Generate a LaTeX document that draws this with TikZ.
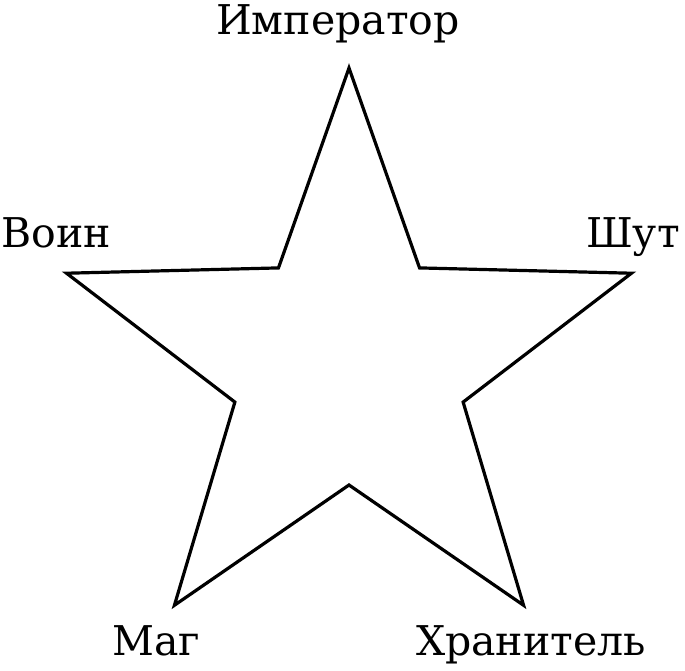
\documentclass[tikz,border=0pt]{standalone}
\usepackage{fontspec}
\setmainfont{DejaVu Serif}
\usepackage{tikz}
\usetikzlibrary{positioning,calc}
\tikzset{
Etoile/.style={
 draw=black,
 line width=3.2pt,
 line join=miter
 },
Nom/.style={
 font=\fontsize{41}{46}\selectfont,
 inner sep=0pt,
 anchor=base
 }
}
\begin{document}
\begin{tikzpicture}[x=1pt,y=1pt]
\useasboundingbox (0,0) rectangle (685,670);
\coordinate (c) at (349,305);
\coordinate (s1) at ($(c)+(90:297)$);
\coordinate (s2) at ($(c)+(18:297)$);
\coordinate (s3) at ($(c)+(-54:297)$);
\coordinate (s4) at ($(c)+(-126:297)$);
\coordinate (s5) at ($(c)+(162:297)$);
\coordinate (i1) at ($(c)+(54:120)$);
\coordinate (i2) at ($(c)+(-18:120)$);
\coordinate (i3) at ($(c)+(-90:120)$);
\coordinate (i4) at ($(c)+(-162:120)$);
\coordinate (i5) at ($(c)+(126:120)$);
\draw[Etoile] (s1) -- (i1) -- (s2) -- (i2) -- (s3) -- (i3) -- (s4) -- (i4) -- (s5) -- (i5) -- cycle;
\node[Nom] (imperator) at (338,635) {Император};
\node[Nom] (shut) at (633,422) {Шут};
\node[Nom] (khranitel) at (531,15) {Хранитель};
\node[Nom] (mag) at (156,15) {Маг};
\node[Nom] (voin) at (56,422) {Воин};
\end{tikzpicture}
\end{document}
